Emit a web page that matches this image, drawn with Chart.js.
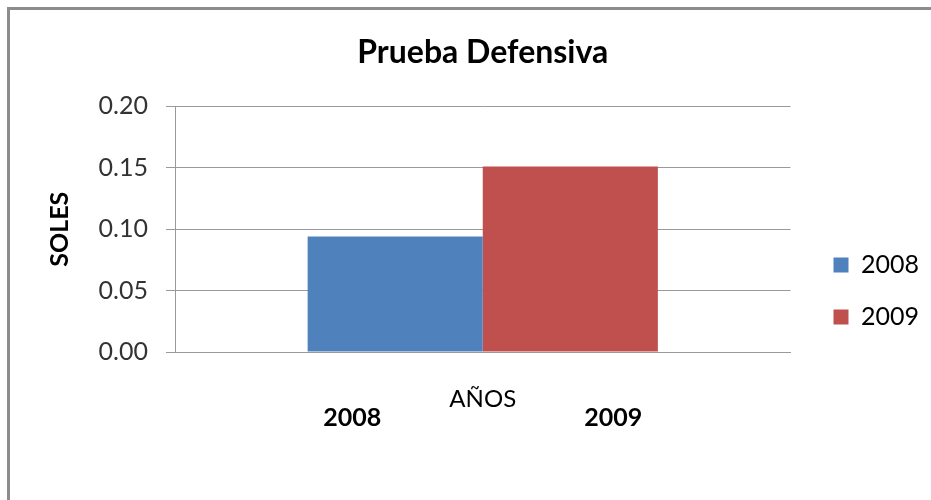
<!DOCTYPE html>
<html lang="es">
<head>
<meta charset="UTF-8">
<title>Prueba Defensiva</title>
<script src="https://cdn.jsdelivr.net/npm/chart.js"></script>
<style>
  html, body { margin: 0; padding: 0; background: #fff; overflow: hidden; }
</style>
</head>
<body>
<canvas id="chart" width="931" height="500"></canvas>
<script>
// datos del grafico
const categorias = [''];
const series = ['2008', '2009'];
const valores2008 = [0.094];
const valores2009 = [0.151];
const etiquetasAnios = ['2008', '2009'];
const colores = ['#4f81bd', '#c0504d'];

// marco gris del grafico (solo lados superior e izquierdo visibles)
const marcoPlugin = {
  id: 'marco',
  beforeDraw(chart) {
    const {ctx} = chart;
    ctx.save();
    ctx.strokeStyle = '#8c8c8c';
    ctx.lineWidth = 3;
    ctx.beginPath();
    ctx.moveTo(8.5, chart.height + 5);
    ctx.lineTo(8.5, 8.5);
    ctx.lineTo(chart.width + 5, 8.5);
    ctx.stroke();
    ctx.restore();
  }
};

// etiquetas en negrita bajo el eje (como en el grafico original)
const etiquetasPlugin = {
  id: 'etiquetasAnios',
  afterDraw(chart) {
    const {ctx, chartArea} = chart;
    const pos = [0.288, 0.712];
    ctx.save();
    ctx.font = 'bold 25px Lato';
    ctx.fillStyle = '#000';
    ctx.textAlign = 'center';
    ctx.textBaseline = 'middle';
    etiquetasAnios.forEach((t, i) => {
      ctx.fillText(t, chartArea.left + pos[i] * chartArea.width, chartArea.bottom + 66);
    });
    ctx.restore();
  }
};

new Chart(document.getElementById('chart'), {
  type: 'bar',
  data: {
    labels: categorias,
    datasets: [
      { label: series[0], data: valores2008, backgroundColor: colores[0] },
      { label: series[1], data: valores2009, backgroundColor: colores[1] }
    ]
  },
  options: {
    responsive: false,
    animation: false,
    layout: { padding: { left: 0, right: 2, top: 0, bottom: 0 } },
    datasets: {
      bar: { categoryPercentage: 0.569, barPercentage: 1.0, borderWidth: 0 }
    },
    scales: {
      x: {
        grid: { display: false },
        border: { color: '#9a9a9a', width: 1 },
        ticks: { display: false },
        title: {
          display: true, text: 'AÑOS', color: '#000',
          font: { family: 'Lato', size: 24 },
          padding: { top: 0, bottom: 86 }
        },
        afterFit(scale) { scale.height = 148; }
      },
      y: {
        min: 0, max: 0.2,
        ticks: {
          stepSize: 0.05, padding: 18, color: '#333',
          font: { family: 'Lato', size: 25 },
          callback: v => v.toFixed(2)
        },
        grid: { color: '#9a9a9a', tickLength: 9 },
        border: { color: '#9a9a9a' },
        title: {
          display: true, text: 'SOLES', color: '#000',
          font: { family: 'Lato', size: 25, weight: 'bold' },
          padding: { top: 45, bottom: 0 }
        },
        afterFit(scale) { scale.width = 175; }
      }
    },
    plugins: {
      title: {
        display: true, text: 'Prueba Defensiva', color: '#000',
        fullSize: false,
        font: { family: 'Lato', size: 32, weight: 'bold' },
        padding: { top: 33, bottom: 35 }
      },
      legend: {
        position: 'right',
        title: { display: true, text: '', font: { size: 10 }, padding: { top: 27, bottom: 27 } },
        labels: {
          boxWidth: 15, boxHeight: 15, padding: 43, color: '#000',
          font: { family: 'Lato', size: 25, lineHeight: '9px' },
          generateLabels(chart) {
            return Chart.defaults.plugins.legend.labels.generateLabels(chart)
              .map(l => Object.assign(l, { text: [l.text], lineWidth: 0 }));
          }
        }
      },
      tooltip: { enabled: false }
    }
  },
  plugins: [marcoPlugin, etiquetasPlugin]
});
</script>
</body>
</html>
